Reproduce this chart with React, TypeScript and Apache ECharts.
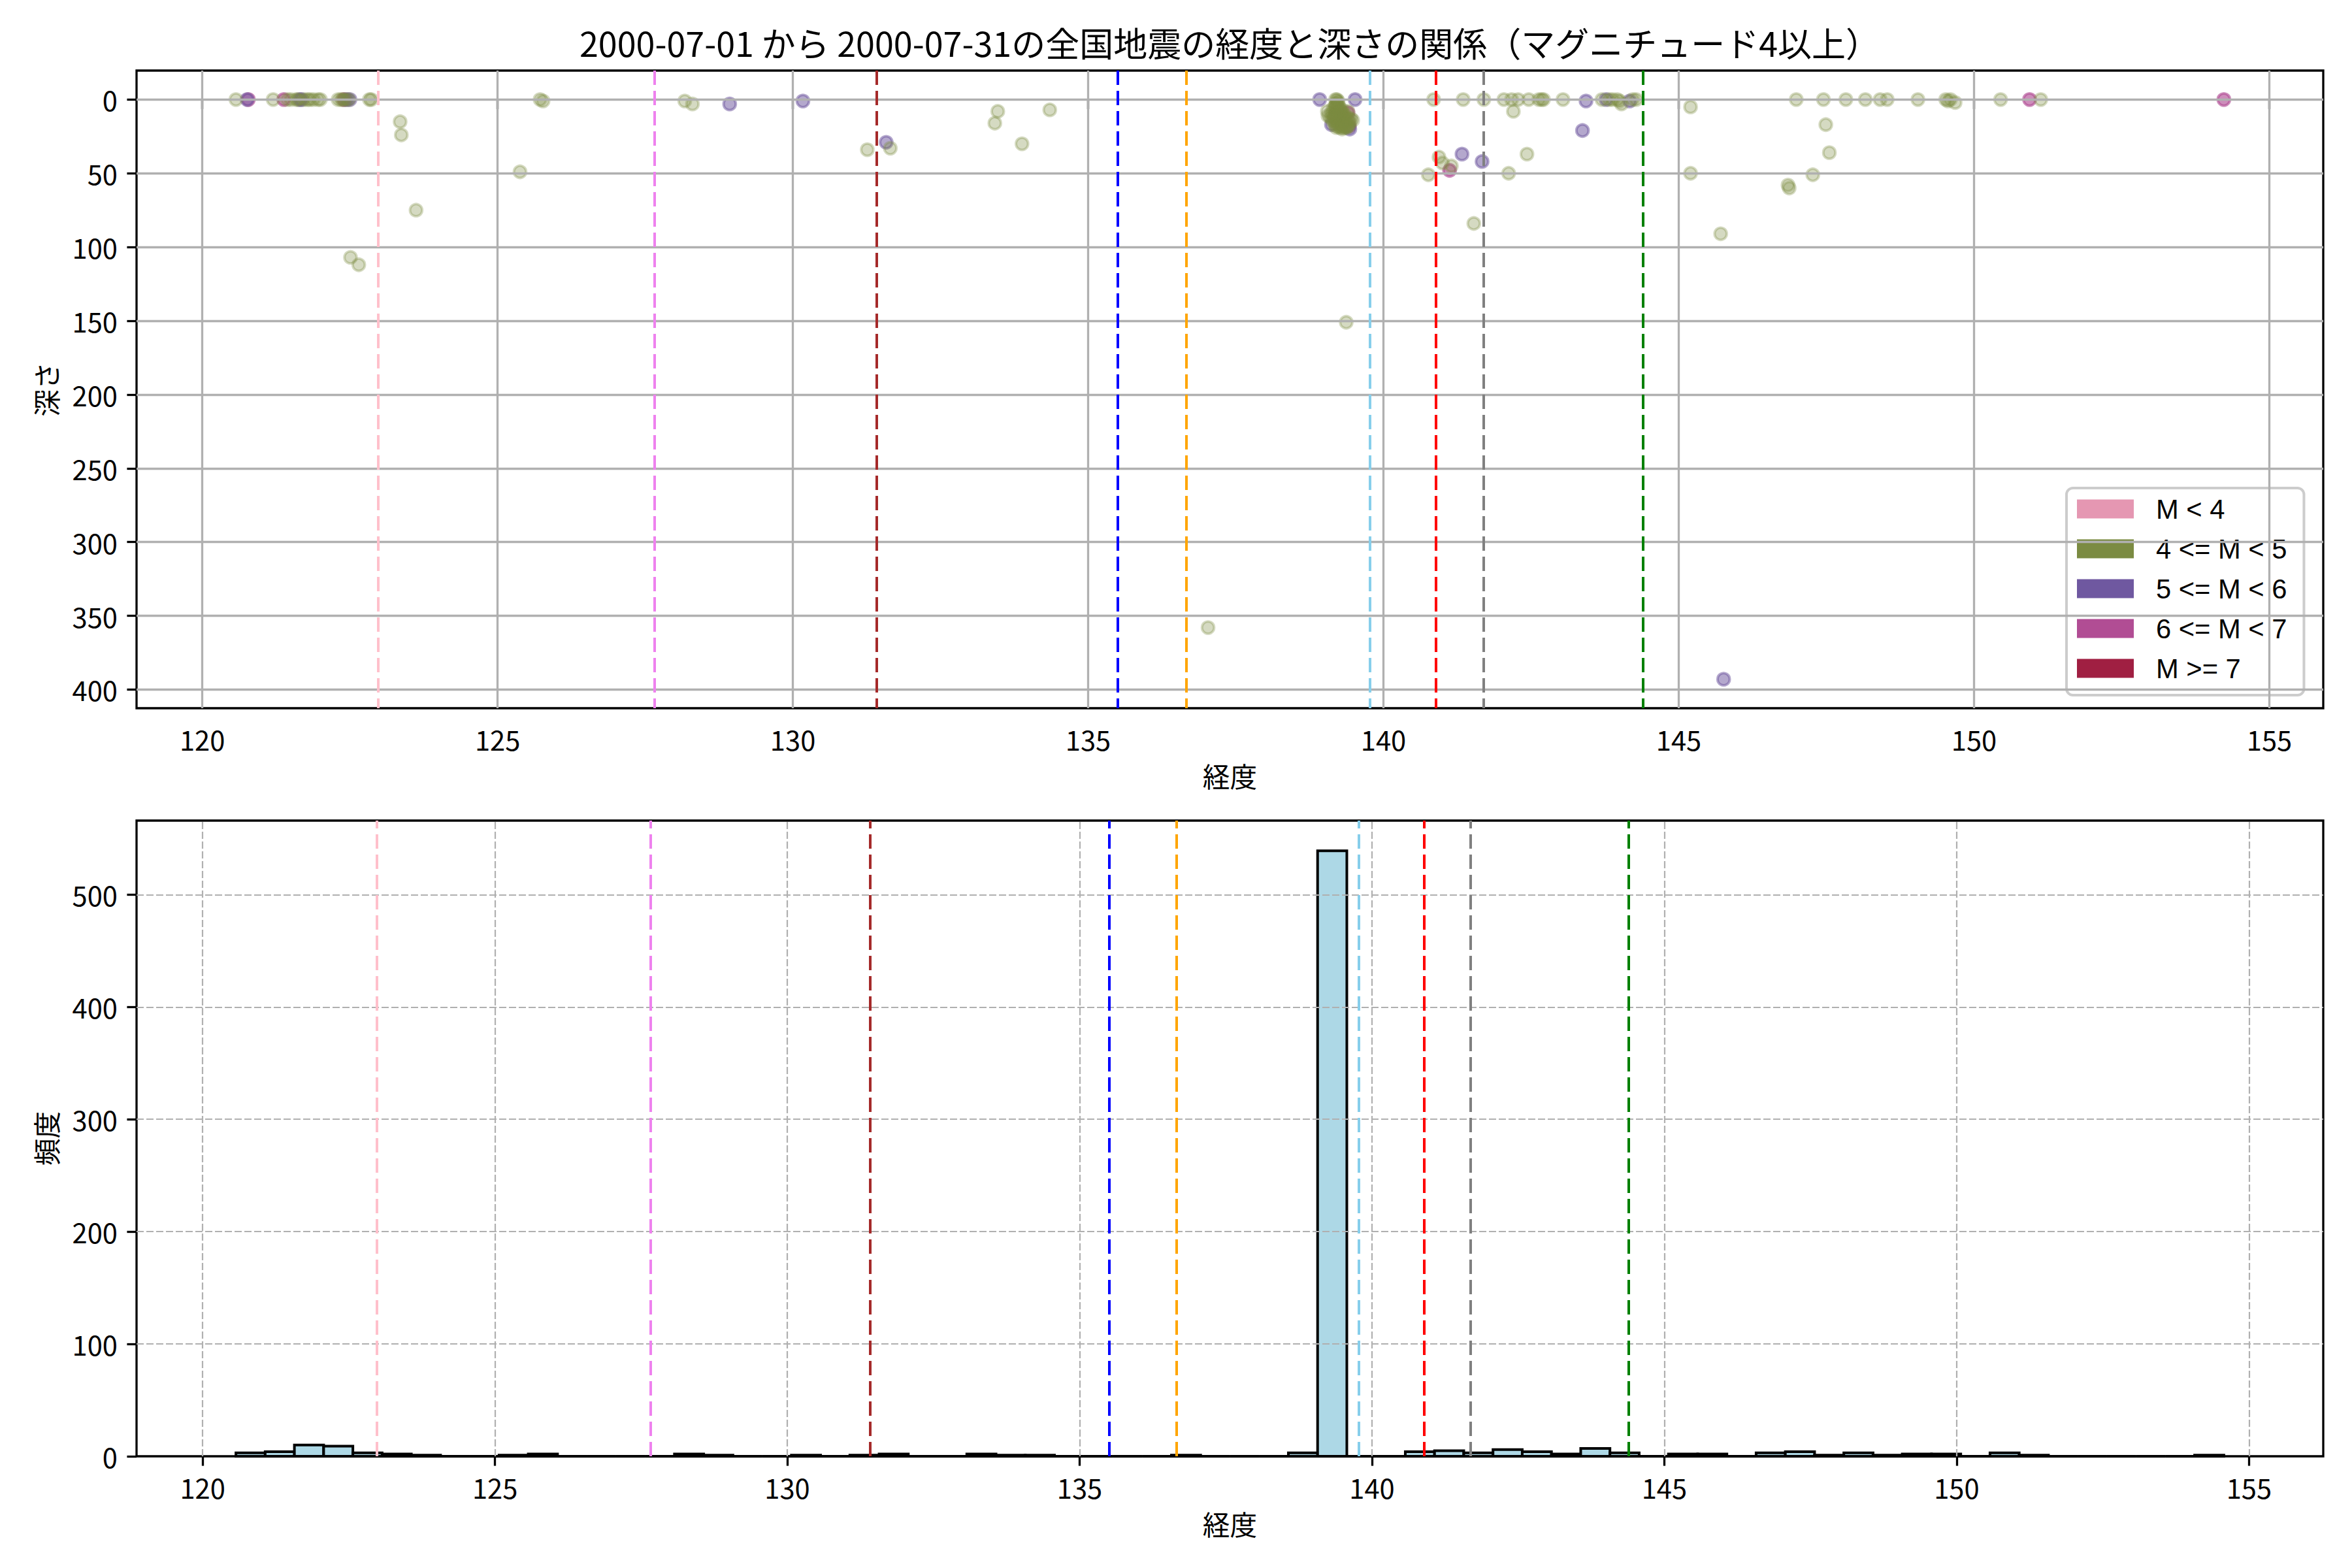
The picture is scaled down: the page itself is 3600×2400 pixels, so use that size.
import React, { useEffect, useRef } from "react";
import * as echarts from "echarts";

const FONT = '"Noto Sans CJK JP", "Noto Sans", sans-serif';
const LEGEND_FONT = '"Liberation Sans", "Noto Sans", sans-serif';

// ---- data ----
const TITLE = "2000-07-01 から 2000-07-31の全国地震の経度と深さの関係（マグニチュード4以上）";
const magClasses = ["M < 4", "4 <= M < 5", "5 <= M < 6", "6 <= M < 7", "M >= 7"];
const magColors = ["#e597b2", "#7b8b42", "#6f58a0", "#b14d94", "#a01f42"];
const magAlpha = [0.5, 0.4, 0.65, 0.8, 0.85];
// drawing order (later = on top): M>=7, 6-7, 5-6, M<4, 4-5
const drawOrder = [4, 3, 2, 0, 1];

const lonTicks = [120, 125, 130, 135, 140, 145, 150, 155];
const depthTicks = [0, 50, 100, 150, 200, 250, 300, 350, 400];
const freqTicks = [0, 100, 200, 300, 400, 500];

// [longitude, depth]
const quakesMlt4: number[][] = [];
const quakesM4: number[][] = [
  [120.57, 0], [121.2, 0], [121.44, 0], [121.5, 0],
  [121.59, 0], [121.62, 0], [121.72, 0], [121.78, 0], [121.82, 0], [121.88, 0], [121.96, 0], [122.0, 0],
  [122.3, 0], [122.35, 0], [122.38, 0], [122.42, 0], [122.48, 0], [122.51, 107],
  [122.65, 112], [122.83, 0], [122.86, 0],
  [123.35, 15], [123.37, 24], [123.62, 75],
  [125.38, 49], [125.72, 0], [125.77, 1],
  [128.17, 1], [128.3, 3],
  [131.26, 34], [131.65, 33],
  [133.42, 16], [133.47, 8], [133.88, 30], [134.35, 7],
  [137.03, 358],
  [139.05, 8], [139.06, 11],
  [139.19, 0], [139.21, 0], [139.23, 1], [139.2, 3], [139.24, 4],
  [139.15, 6], [139.2, 6], [139.26, 6], [139.3, 7], [139.12, 9], [139.18, 9], [139.24, 9], [139.3, 9], [139.36, 10], [139.4, 8],
  [139.1, 12], [139.16, 12], [139.22, 12], [139.28, 12], [139.34, 12], [139.4, 13], [139.45, 13],
  [139.13, 14], [139.19, 15], [139.25, 15], [139.31, 15], [139.37, 15], [139.43, 16], [139.48, 14],
  [139.17, 17], [139.23, 18], [139.29, 18], [139.35, 18], [139.41, 18],
  [139.2, 19], [139.26, 19], [139.32, 19], [139.38, 19], [139.3, 20],
  [139.18, 5], [139.22, 7], [139.27, 8], [139.21, 10], [139.25, 11], [139.29, 10], [139.33, 11],
  [139.19, 13], [139.23, 13], [139.27, 14], [139.31, 13], [139.35, 14], [139.21, 16], [139.26, 16],
  [139.3, 16], [139.34, 16], [139.38, 17], [139.24, 12], [139.28, 16], [139.32, 17],
  [139.22, 2], [139.19, 4], [139.25, 7], [139.42, 14], [139.15, 11], [139.36, 19],
  [139.37, 151],
  [140.76, 51], [140.85, 0], [140.94, 39], [141.0, 43], [141.15, 45], [141.35, 0], [141.53, 84],
  [141.7, 0], [142.04, 0], [142.12, 50], [142.17, 0], [142.2, 8], [142.28, 0], [142.43, 37], [142.46, 0],
  [142.63, 0], [142.68, 0], [142.71, 0], [143.04, 0],
  [143.7, 0], [143.82, 0], [143.88, 0], [143.96, 0], [144.0, 1], [144.03, 3], [144.22, 0], [144.28, 0],
  [145.2, 5], [145.2, 50], [145.71, 91],
  [146.85, 58], [146.87, 60], [146.99, 0], [147.27, 51], [147.45, 0], [147.49, 17], [147.55, 36], [147.83, 0],
  [148.16, 0], [148.41, 0], [148.53, 0], [149.05, 0], [149.52, 0], [149.56, 1], [149.6, 0], [149.68, 2],
  [150.45, 0], [151.13, 0],
];
const quakesM5: number[][] = [
  [120.76, 0], [121.65, 0], [121.68, 0], [122.45, 0], [122.5, 0], [128.93, 3], [130.17, 1], [131.58, 29],
  [138.92, 0], [139.52, 0], [139.12, 17], [139.2, 10], [139.43, 20],
  [141.33, 37], [141.67, 42], [143.37, 21], [143.43, 1], [143.77, 0], [144.17, 1], [145.76, 393],
];
const quakesM6: number[][] = [
  [120.78, 0], [121.38, 0], [122.4, 0], [139.4, 9], [139.42, 18], [141.12, 48], [150.94, 0], [154.23, 0],
];
const quakesM7: number[][] = [];
const quakeSets = [quakesMlt4, quakesM4, quakesM5, quakesM6, quakesM7];

// histogram: bins of 0.5 degree starting at the minimum longitude
const histStart = 120.57;
const histBinWidth = 0.5;
const histCounts = [
  3, 4, 10, 9, 3, 2, 1, 0, 0, 1, 2, 0, 0, 0, 0, 2, 1, 0, 0, 1,
  0, 1, 2, 0, 0, 2, 1, 1, 0, 0, 0, 0, 1, 0, 0, 0, 3, 539, 0, 0,
  4, 5, 3, 6, 4, 2, 7, 3, 0, 2, 2, 0, 3, 4, 1, 3, 1, 2, 2, 0,
  3, 1, 0, 0, 0, 0, 0, 1,
];

// vertical reference longitudes
const refLons = [122.98, 127.66, 131.42, 135.5, 136.66, 139.77, 140.89, 141.69, 144.39];
const refColors = ["pink", "violet", "brown", "blue", "orange", "skyblue", "red", "gray", "green"];

function rgba(hex: string, a: number) {
  const n = parseInt(hex.slice(1), 16);
  return `rgba(${(n >> 16) & 255},${(n >> 8) & 255},${n & 255},${a})`;
}

const FS = 41.7;

function axisCommon(ticks: number[], margin: number) {
  return {
    axisLine: { show: false },
    splitLine: { show: false },
    axisTick: {
      show: true,
      customValues: ticks,
      length: 14.6,
      lineStyle: { color: "#000", width: 3.3 },
    },
    axisLabel: {
      customValues: ticks,
      fontSize: FS,
      color: "#000",
      fontFamily: FONT,
      margin,
    },
    nameLocation: "middle" as const,
    nameTextStyle: { fontSize: FS, color: "#000", fontFamily: FONT },
  };
}

function gridLineSeries(xi: number, xt: number[], yt: number[], dashed: boolean) {
  return {
    type: "line",
    xAxisIndex: xi,
    yAxisIndex: xi,
    data: [],
    z: 3,
    silent: true,
    markLine: {
      silent: true,
      symbol: ["none", "none"],
      animation: false,
      label: { show: false },
      lineStyle: dashed
        ? { color: "#b0b0b0", width: 2.2, type: [11, 4] }
        : { color: "#b0b0b0", width: 3.3, type: "solid" },
      data: [...xt.map((v) => ({ xAxis: v })), ...yt.map((v) => ({ yAxis: v }))],
    },
  };
}

function refLineSeries(xi: number) {
  return {
    type: "line",
    xAxisIndex: xi,
    yAxisIndex: xi,
    data: [],
    z: 5,
    silent: true,
    markLine: {
      silent: true,
      symbol: ["none", "none"],
      animation: false,
      label: { show: false },
      data: refLons.map((v, i) => ({
        xAxis: v,
        lineStyle: { color: refColors[i], width: 4, type: [22, 9] },
      })),
    },
  };
}

export default function App() {
  const ref = useRef<HTMLDivElement>(null);
  useEffect(() => {
    document.body.style.margin = "0";
    const chart = echarts.init(ref.current!, null, { renderer: "svg", width: 3600, height: 2400 });

    const histData = histCounts.map((c, i) => [
      histStart + i * histBinWidth,
      histStart + (i + 1) * histBinWidth,
      c,
    ]);

    const option: any = {
      animation: false,
      backgroundColor: "#fff",
      textStyle: { fontFamily: FONT },
      grid: [
        { left: 209, top: 108, width: 3347, height: 976, show: true, borderColor: "#000", borderWidth: 3.3, backgroundColor: "transparent" },
        { left: 209, top: 1256, width: 3347, height: 973, show: true, borderColor: "#000", borderWidth: 3.3, backgroundColor: "transparent" },
      ],
      xAxis: [
        { type: "value", gridIndex: 0, min: 118.887, max: 155.913, name: "経度", nameGap: 82, ...axisCommon(lonTicks, 26) },
        { type: "value", gridIndex: 1, min: 118.87, max: 156.27, name: "経度", nameGap: 82, ...axisCommon(lonTicks, 26) },
      ],
      yAxis: [
        { type: "value", gridIndex: 0, inverse: true, min: -19.65, max: 412.65, name: "深さ", nameGap: 118, ...axisCommon(depthTicks, 29) },
        { type: "value", gridIndex: 1, min: 0, max: 565.95, name: "頻度", nameGap: 118, ...axisCommon(freqTicks, 29) },
      ],
      legend: {
        orient: "vertical",
        left: 3163,
        top: 747,
        selectedMode: false,
        icon: "rect",
        itemWidth: 87,
        itemHeight: 29,
        itemGap: 11,
        padding: [7, 26, 16, 16],
        backgroundColor: "rgba(255,255,255,0.8)",
        borderColor: "#cccccc",
        borderWidth: 4,
        borderRadius: 10,
        textStyle: { fontSize: FS, color: "#000", fontFamily: LEGEND_FONT, lineHeight: 50, padding: [0, 0, 0, 29] },
        data: magClasses.map((n, i) => ({ name: n, itemStyle: { color: magColors[i], borderWidth: 0, opacity: 1 } })),
      },
      graphic: [
        {
          type: "text",
          x: 1882,
          y: 64,
          style: {
            text: TITLE,
            fontSize: 52,
            fontFamily: FONT,
            fill: "#000",
            align: "center",
            verticalAlign: "middle",
            textAlign: "center",
            textVerticalAlign: "middle",
          },
        },
      ],
      series: [
        ...drawOrder.map((i) => ({
          type: "scatter",
          name: magClasses[i],
          xAxisIndex: 0,
          yAxisIndex: 0,
          z: 2,
          symbol: "circle",
          symbolSize: 18.6,
          data: quakeSets[i],
          itemStyle: {
            color: rgba(magColors[i], magAlpha[i]),
            borderColor: rgba(magColors[i], magAlpha[i]),
            borderWidth: 4,
          },
          emphasis: { disabled: true },
        })),
        gridLineSeries(0, lonTicks, depthTicks, false),
        refLineSeries(0),
        {
          type: "custom",
          xAxisIndex: 1,
          yAxisIndex: 1,
          z: 2,
          data: histData,
          encode: { x: [0, 1], y: 2 },
          renderItem: (params: any, api: any) => {
            const p0 = api.coord([api.value(0), api.value(2)]);
            const p1 = api.coord([api.value(1), 0]);
            return {
              type: "rect",
              shape: { x: p0[0], y: p0[1], width: p1[0] - p0[0], height: p1[1] - p0[1] },
              style: { fill: "#add8e6", stroke: "#000", lineWidth: 4 },
            };
          },
        },
        gridLineSeries(1, lonTicks, freqTicks.filter((v) => v > 0), true),
        refLineSeries(1),
      ],
    };
    chart.setOption(option);
    return () => chart.dispose();
  }, []);
  return <div ref={ref} style={{ width: 3600, height: 2400 }} />;
}
